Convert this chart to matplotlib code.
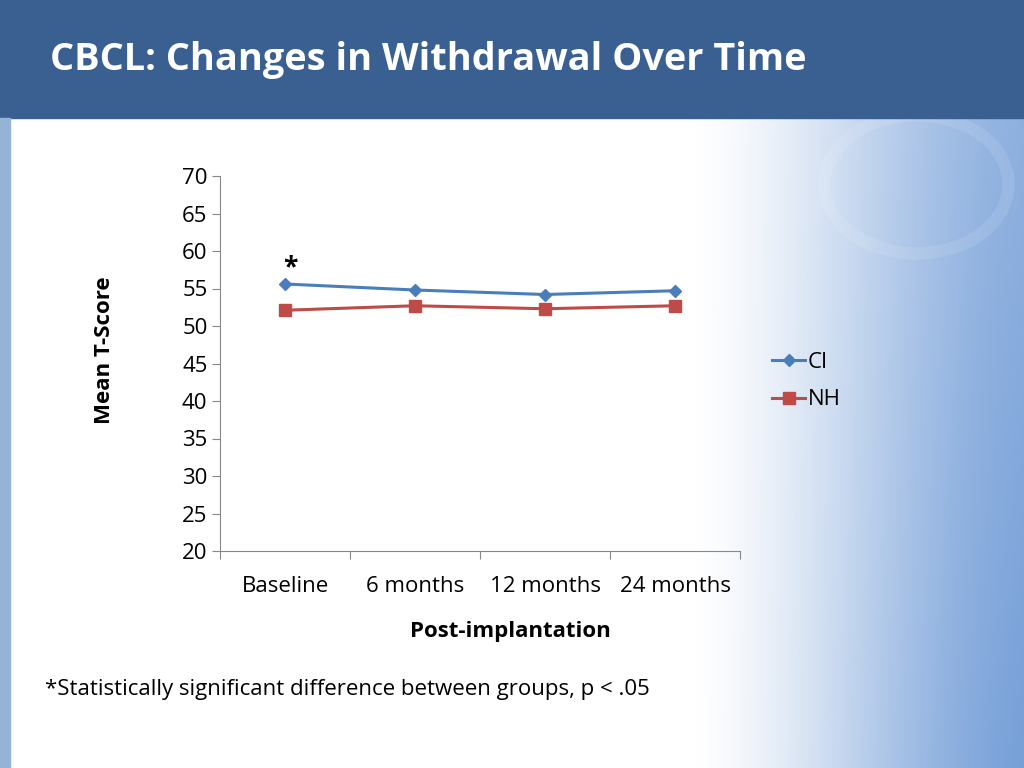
import matplotlib.pyplot as plt
import numpy as np
from matplotlib.patches import Rectangle, Circle

plt.rcParams['font.family'] = ['Open Sans', 'DejaVu Sans']

# data
timepoints = ['Baseline', '6 months', '12 months', '24 months']
ci_scores = [55.6, 54.8, 54.2, 54.7]
nh_scores = [52.1, 52.7, 52.3, 52.7]
y_ticks = list(range(20, 75, 5))

fs = 16

fig = plt.figure(figsize=(10.24, 7.68), dpi=100)

# slide background: white with a blue gradient towards the right edge
bg = fig.add_axes([0, 0, 1, 1], zorder=-10)
bg.set_xlim(0, 1)
bg.set_ylim(0, 1)
bg.axis('off')
gx, gy = np.meshgrid(np.linspace(0, 1, 512), np.linspace(1, 0, 256))
t = np.clip((gx - 0.68) / 0.32, 0, 1)
t = t * t * (3 - 2 * t) * 0.6 + t * 0.4
t = t * (0.8 + 0.2 * (1 - gy))
blue = np.array([0.47, 0.63, 0.85])
img = (1 - t)[..., None] + t[..., None] * blue
bg.imshow(img, extent=[0, 1, 0, 1], aspect='auto', zorder=0)
bg.add_patch(Circle((0.895, 0.76), 0.09, transform=bg.transAxes, fill=False,
                    lw=9, ec='white', alpha=0.10, zorder=1))
bg.add_patch(Rectangle((0, 1 - 118 / 768), 1, 118 / 768, color='#3A5F91', zorder=2))
bg.add_patch(Rectangle((0, 0), 10 / 1024, 1 - 118 / 768, color='#94B3D7', zorder=2))
bg.text(50 / 1024, 1 - 60 / 768, 'CBCL: Changes in Withdrawal Over Time',
        color='white', fontsize=27.3, fontweight='bold', va='center', ha='left', zorder=3)

ax = fig.add_axes([220 / 1024, 1 - 551 / 768, 520 / 1024, 375 / 768])
ax.patch.set_alpha(0)
x = np.arange(len(timepoints)) + 0.5

ax.plot(x, ci_scores, color='#4A7EBB', lw=2.2, marker='D', ms=6, label='CI')
ax.plot(x, nh_scores, color='#BE4B48', lw=2.2, marker='s', ms=8, label='NH')
ax.annotate('*', (x[0], ci_scores[0]), xytext=(4, 2), textcoords='offset points',
            ha='center', va='bottom', fontsize=19, fontweight='bold')

ax.set_xlim(0, len(timepoints))
ax.set_ylim(20, 70)
ax.set_yticks(y_ticks)
ax.set_xticks(np.arange(len(timepoints) + 1))
ax.set_xticklabels([])
ax.set_xticks(x, minor=True)
ax.set_xticklabels(timepoints, minor=True)
ax.tick_params(axis='x', which='minor', length=0, pad=18, labelsize=fs)
ax.tick_params(axis='x', which='major', length=6, color='#888888')
ax.tick_params(axis='y', length=6, color='#888888', labelsize=fs, pad=3)
for s in ['top', 'right']:
    ax.spines[s].set_visible(False)
for s in ['left', 'bottom']:
    ax.spines[s].set_color('#888888')

fig.text(105 / 1024, 1 - 350 / 768, 'Mean T-Score', rotation=90, fontsize=fs,
         fontweight='bold', ha='center', va='center')
fig.text(510 / 1024, 1 - 632 / 768, 'Post-implantation', fontsize=fs,
         fontweight='bold', ha='center', va='center')
fig.text(45 / 1024, 1 - 690 / 768,
         '*Statistically significant difference between groups, p < .05',
         fontsize=fs, ha='left', va='center')

ax.legend(loc='center left', bbox_to_anchor=(752 / 1024, 1 - 381 / 768),
          bbox_transform=fig.transFigure, frameon=False, fontsize=fs,
          handlelength=1.5, handletextpad=0.1, labelspacing=0.75)

fig.savefig('out.png', dpi=100)
